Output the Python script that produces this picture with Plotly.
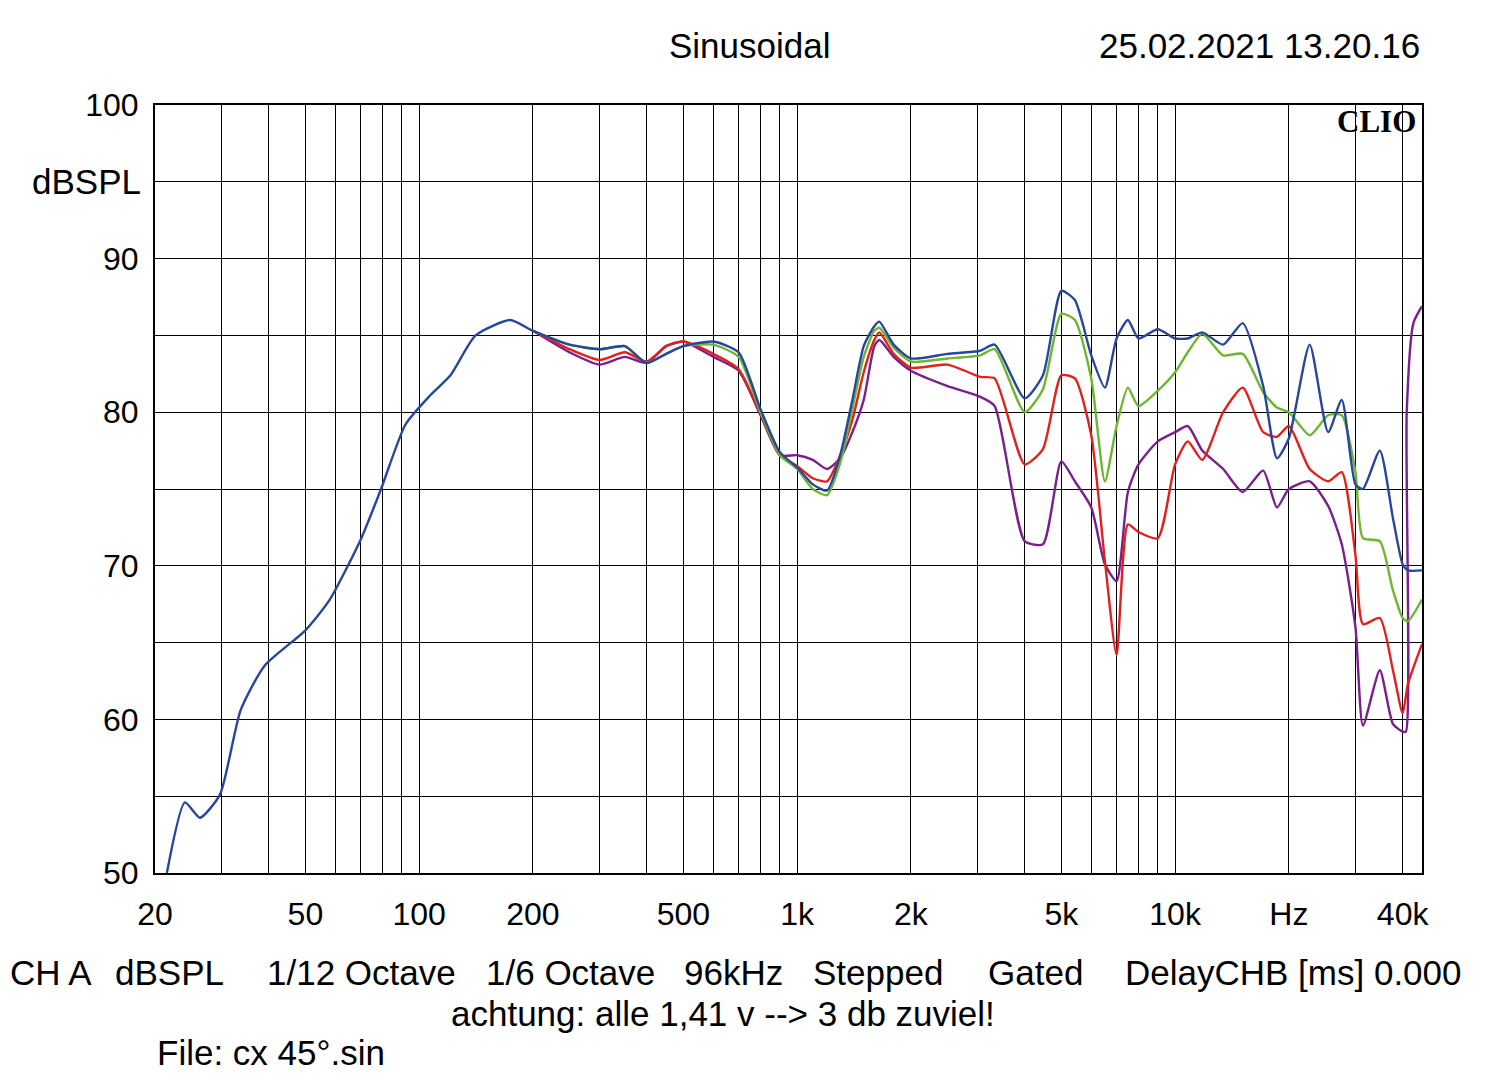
import plotly.graph_objects as go

# frequencies (Hz) of the read-off points
freq_low = [21.5, 24, 26.3, 29.7, 33.7, 39, 50, 58, 70, 79, 92, 107, 121, 141, 174, 196]
blue_low = [50.0, 54.6, 53.6, 55.1, 60.6, 63.5, 65.8, 67.8, 71.7, 74.9, 79.2, 81.1, 82.4, 85.0, 86.0, 85.4]

freq_hi = [200, 250, 300, 350, 400, 450, 500, 600, 700, 800, 900, 1000, 1100, 1200, 1300, 1400,
           1500, 1600, 1650, 1800, 2000, 2500, 3050, 3330, 4000, 4470, 5000, 5430, 6000, 6520,
           7000, 7500, 8000, 9000, 10000, 10800, 11800, 13400, 15100, 17100, 18600, 20000,
           22700, 25400, 27600, 30000, 31400, 34800, 37700, 40000]

blue_hi = [85.3, 84.4, 84.1, 84.3, 83.2, 83.8, 84.3, 84.6, 83.9, 80.2, 77.4, 76.4, 75.3, 74.9, 77.2, 80.8,
           84.3, 85.6, 85.9, 84.4, 83.5, 83.8, 84.0, 84.4, 80.9, 82.4, 87.9, 87.3, 83.7, 81.6,
           84.8, 86.0, 84.8, 85.4, 84.8, 84.8, 85.2, 84.4, 85.8, 81.7, 77.0, 78.3,
           84.4, 78.7, 80.8, 75.3, 75.0, 77.5, 73.1, 70.1]
green_hi = [85.3, 84.4, 84.1, 84.3, 83.2, 83.8, 84.3, 84.4, 83.6, 80.0, 77.2, 76.3, 75.0, 74.6, 76.7, 80.2,
            83.6, 85.3, 85.5, 84.2, 83.3, 83.5, 83.7, 84.1, 80.0, 81.5, 86.4, 86.0, 82.2, 75.5,
            79.1, 81.6, 80.4, 81.4, 82.6, 83.9, 85.1, 83.7, 83.8, 81.3, 80.3, 80.0,
            78.5, 79.8, 79.8, 76.1, 71.8, 71.6, 68.4, 66.6]
red_hi = [85.3, 84.1, 83.4, 83.9, 83.3, 84.3, 84.6, 83.8, 82.8, 79.9, 77.2, 76.5, 75.7, 75.5, 77.2, 79.5,
          82.6, 84.7, 85.2, 83.8, 82.9, 83.1, 82.3, 82.2, 76.6, 77.6, 82.4, 82.2, 78.5, 70.3,
          64.2, 72.7, 72.2, 71.8, 76.6, 78.1, 76.9, 80.0, 81.6, 78.7, 78.4, 79.1,
          76.3, 75.5, 76.1, 70.7, 66.2, 66.6, 63.2, 60.4]
purple_hi = [85.3, 83.9, 83.1, 83.6, 83.2, 84.3, 84.6, 83.6, 82.7, 79.8, 77.2, 77.2, 76.9, 76.3, 77.0, 78.7,
             80.8, 84.3, 84.7, 83.6, 82.7, 81.7, 81.0, 80.4, 71.6, 71.4, 76.8, 75.5, 73.8, 70.1,
             69.0, 74.8, 76.6, 78.1, 78.7, 79.1, 77.5, 76.3, 74.8, 76.2, 73.8, 75.0,
             75.5, 73.9, 71.4, 66.0, 59.6, 63.2, 59.7, 59.2]

freq_end = [41300, 45000]
blue_end = [69.7, 69.7]
green_end = [66.4, 67.8]
red_end = [62.3, 64.9]
freq_purple_end = [40800, 41000, 42700, 45000]
purple_end = [59.2, 80.0, 85.8, 86.9]

x_ticks = [20, 50, 100, 200, 500, 1000, 2000, 5000, 10000, 20000, 40000]
x_labels = ["20", "50", "100", "200", "500", "1k", "2k", "5k", "10k", "Hz", "40k"]
grid_f = [m * 10 ** e for e in range(1, 5) for m in range(1, 10) if 20 <= m * 10 ** e <= 40000]

fig = go.Figure()
series = [
    (freq_hi + freq_purple_end, purple_hi + purple_end, "#7b1e8e"),
    (freq_hi + freq_end, red_hi + red_end, "#e3201b"),
    (freq_hi + freq_end, green_hi + green_end, "#6cb630"),
    (freq_low + freq_hi + freq_end, blue_low + blue_hi + blue_end, "#27479c"),
]
for fx, fy, col in series:
    fig.add_trace(go.Scatter(x=fx, y=fy, mode="lines", line=dict(color=col, width=2.4, shape="spline", smoothing=0.6)))

font = dict(family="Liberation Sans, Arial", size=32, color="black")
fig.update_layout(
    width=1500, height=1086, showlegend=False,
    paper_bgcolor="white", plot_bgcolor="white",
    margin=dict(l=147, r=86, t=97, b=221),
    font=font,
    xaxis=dict(type="log", range=[1.30103, 4.6532], tickvals=x_ticks, ticktext=x_labels,
               showgrid=True, gridcolor="black", gridwidth=1, ticks="", ticklabelstandoff=12,
               minor=dict(tickvals=grid_f, showgrid=True, gridcolor="black", gridwidth=1),
               showline=True, linecolor="black", linewidth=2, mirror=True, zeroline=False),
    yaxis=dict(range=[50, 100], tickvals=[50, 60, 70, 80, 90, 100], showgrid=True, gridcolor="black",
               gridwidth=1, ticks="", ticklabelstandoff=8,
               minor=dict(dtick=5, showgrid=True, gridcolor="black", gridwidth=1),
               showline=True, linecolor="black", linewidth=2, mirror=True, zeroline=False),
)

ann_font = dict(family="Liberation Sans, Arial", size=35, color="black")

# pixel positions measured on the reference; plot spans 155..1422 x 105..873
def px(x, y, s, anchor="center", f=ann_font):
    fig.add_annotation(x=(x - 155) / 1267, y=(873 - y) / 768, xref="paper", yref="paper", text=s,
                       showarrow=False, xanchor=anchor, yanchor="middle", font=f)

px(750, 45, "Sinusoidal")
px(1422, 45, "25.02.2021 13.20.16", "right")
px(143, 182, "dBSPL", "right")
px(1418, 122, "<b>CLIO</b>", "right", f=dict(family="Liberation Serif, Times New Roman", size=31, color="black"))
bottom = [(8, "CH A"), (113, "dBSPL"), (265, "1/12 Octave"), (484, "1/6 Octave"), (682, "96kHz"),
          (811, "Stepped"), (986, "Gated"), (1123, "DelayCHB [ms] 0.000")]
for bx, s in bottom:
    px(bx, 972, s, "left")
px(723, 1013, "achtung: alle 1,41 v --> 3 db zuviel!")
px(155, 1052, "File: cx 45°.sin", "left")

fig.write_html("out.html")
